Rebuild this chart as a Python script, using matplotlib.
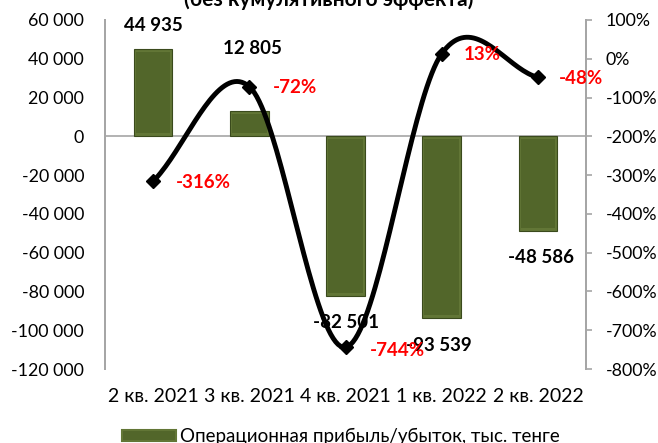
import numpy as np
import matplotlib
matplotlib.use("Agg")
import matplotlib.pyplot as plt
from matplotlib.patches import Rectangle
from matplotlib.ticker import FuncFormatter, MultipleLocator

categories = ["2 кв. 2021", "3 кв. 2021", "4 кв. 2021", "1 кв. 2022", "2 кв. 2022"]
profit = [44935, 12805, -82501, -93539, -48586]
growth = [-316, -72, -744, 13, -48]
bar_labels = ["44 935", "12 805", "-82 501", "-93 539", "-48 586"]
pct_labels = ["-316%", "-72%", "-744%", "13%", "-48%"]
title = "(без кумулятивного эффекта)"
legend_label = "Операционная прибыль/убыток, тыс. тенге"

plt.rcParams['font.family'] = ['Lato', 'DejaVu Sans']

fig = plt.figure(figsize=(6.58, 4.43), dpi=100)
ax = fig.add_axes([0.1596, 0.167, 0.731, 0.788])
ax2 = ax.twinx()

x = np.arange(len(categories))
pv = np.array(profit, dtype=float)
# beveled bars: subtle frame + darker inner face
ax.bar(x, pv, width=0.4, color="#627636", edgecolor="#3A4A1C", linewidth=0.8, zorder=2)
inset = 1500.0
ax.bar(x, pv - np.sign(pv) * 2 * inset, bottom=np.sign(pv) * inset, width=0.36,
       color="#52662A", linewidth=0, zorder=2.5)
ax.set_xlim(-0.5, 4.5)
ax.set_ylim(-120000, 60000)
ax.yaxis.set_major_locator(MultipleLocator(20000))
ax.yaxis.set_major_formatter(FuncFormatter(lambda v, p: f"{int(v):,}".replace(",", " ")))
ax.axhline(0, color="#A6A6A6", lw=1.2, zorder=1)
ax.set_xticks(x)
ax.set_xticklabels(categories)
ax.tick_params(axis='x', length=0, labelsize=14, pad=14)
ax.tick_params(axis='y', labelsize=12.8, length=0, pad=15)

ax2.set_ylim(-800, 100)
ax2.yaxis.set_major_locator(MultipleLocator(100))
ax2.yaxis.set_major_formatter(FuncFormatter(lambda v, p: f"{int(v)}%"))
ax2.tick_params(axis='y', labelsize=12.8, color="#A6A6A6", length=4, width=1.2, pad=10)

for a in (ax, ax2):
    a.spines['top'].set_visible(False)
    a.spines['bottom'].set_visible(False)
    a.spines['left'].set_color("#A6A6A6")
    a.spines['right'].set_color("#A6A6A6")
    a.spines['left'].set_linewidth(1.4)
    a.spines['right'].set_linewidth(1.4)

# smoothed line (Catmull-Rom through data points)
px = np.array(x, dtype=float)
py = np.array(growth, dtype=float)
P = np.column_stack([px, py])
Pext = np.vstack([P[0] - (P[1] - P[0]), P, P[-1] + (P[-1] - P[-2])])
curve = []
for i in range(1, len(Pext) - 2):
    p0, p1, p2, p3 = Pext[i - 1], Pext[i], Pext[i + 1], Pext[i + 2]
    t = np.linspace(0, 1, 40)[:, None]
    m1 = (p2 - p0) / 2
    m2 = (p3 - p1) / 2
    h00 = 2 * t**3 - 3 * t**2 + 1
    h10 = t**3 - 2 * t**2 + t
    h01 = -2 * t**3 + 3 * t**2
    h11 = t**3 - t**2
    curve.append(h00 * p1 + h10 * m1 + h01 * p2 + h11 * m2)
curve = np.vstack(curve)
ax2.plot(curve[:, 0], curve[:, 1], color="black", lw=3.5, zorder=3, solid_capstyle='round')
ax2.plot(px, py, linestyle='none', marker='D', markersize=7, color="black", zorder=4)

# bar labels
bar_off = [(0, 12300), (0.03, 32500), (0, -13400), (-0.03, -14200), (0.03, -13800)]
for i, (lab, v) in enumerate(zip(bar_labels, profit)):
    dx, dy = bar_off[i]
    ax.text(i + dx, v + dy, lab, ha='center', va='center', fontsize=13.5, fontweight='bold', zorder=5)

pct_off = [(0.52, -3.6), (0.48, -3), (0.54, -8), (0.42, -3), (0.45, -3.5)]
for i, (lab, v) in enumerate(zip(pct_labels, growth)):
    dx, dy = pct_off[i]
    ax2.text(i + dx, v + dy, lab, ha='center', va='center', fontsize=13.5, fontweight='bold', color="red", zorder=6)

fig.text(0.5, 1.0, title, ha='center', va='center', fontsize=15, fontweight='bold')

# legend
fig.patches.append(Rectangle((122 / 658, 1 - 441 / 443), 54 / 658, 11 / 443, transform=fig.transFigure,
                             facecolor="#52662A", edgecolor="#627636", lw=1.5))
fig.text(180 / 658, 1 - 436 / 443, legend_label, ha='left', va='center', fontsize=13.5)

fig.savefig("out.png", dpi=100)
